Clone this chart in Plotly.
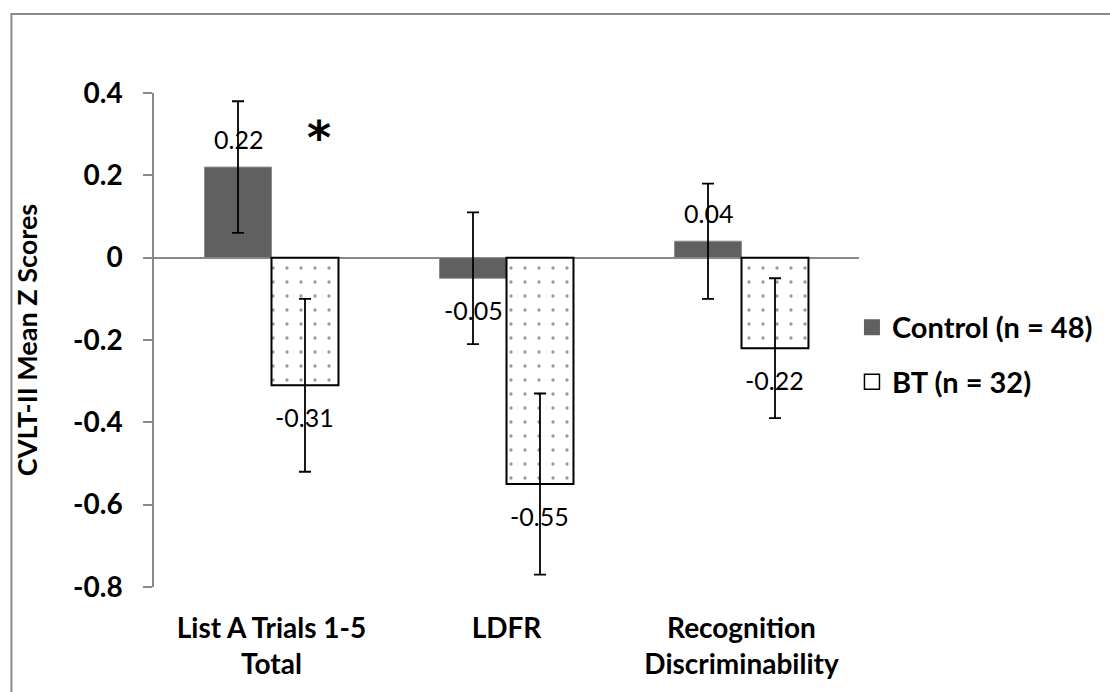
import plotly.graph_objects as go

categories = ["List A Trials 1-5<br>Total", "LDFR", "Recognition<br>Discriminability"]
series_names = ["Control (n = 48)", "BT (n = 32)"]
control_vals = [0.22, -0.05, 0.04]
control_err = [0.16, 0.16, 0.14]
bt_vals = [-0.31, -0.55, -0.22]
bt_err = [0.21, 0.22, 0.17]
y_ticks = [0.4, 0.2, 0, -0.2, -0.4, -0.6, -0.8]
y_tick_labels = ["0.4", "0.2", "0", "-0.2", "-0.4", "-0.6", "-0.8"]
y_title = "CVLT-II Mean Z Scores"
sig_mark = "*"

W, H = 1110, 692
L, R, T, B = 154, 249, 93, 98
BARGAP = 0.43
GREY = "#898989"
CTRL = "#606060"

fig = go.Figure()
fig.add_trace(go.Bar(
    name=series_names[0], x=categories, y=control_vals,
    marker=dict(color=CTRL, line=dict(color="#8c8c8c", width=1)),
    error_y=dict(type="data", array=control_err, color="black", thickness=1.8, width=6),
    showlegend=False,
))
fig.add_trace(go.Bar(
    name=series_names[1], x=categories, y=bt_vals,
    marker=dict(color="white", line=dict(color="black", width=2),
                pattern=dict(shape=".", fgcolor="#333333", bgcolor="white", size=14, solidity=0.045)),
    error_y=dict(type="data", array=bt_err, color="black", thickness=1.8, width=6),
    showlegend=False,
))
# legend entries
fig.add_trace(go.Scatter(x=[None], y=[None], mode="markers", name=series_names[0],
                         marker=dict(symbol="square", size=19, color=CTRL, line=dict(width=0)),
                         legendgroup="a", hoverinfo="skip"))
fig.add_trace(go.Scatter(x=[None], y=[None], mode="markers", name=series_names[1],
                         marker=dict(symbol="square", size=15, color="white",
                                     line=dict(width=1.5, color="black")),
                         legendgroup="b", hoverinfo="skip"))

half = (1 - BARGAP) / 4
ann = []
for i, v in enumerate(control_vals):
    ann.append(dict(x=i - half, y=v, xref="x", yref="y", text=f"{v:.2f}", showarrow=False,
                    yshift=28 if v >= 0 else -32,
                    font=dict(family="Lato", size=25, color="black")))
for i, v in enumerate(bt_vals):
    ann.append(dict(x=i + half, y=v, xref="x", yref="y", text=f"{v:.2f}", showarrow=False,
                    yshift=28 if v >= 0 else -32,
                    font=dict(family="Lato", size=25, color="black")))
ann.append(dict(x=0.2, y=0.29, xref="x", yref="y", text=f"<b>{sig_mark}</b>", showarrow=False,
                font=dict(family="DejaVu Sans", size=46, color="black")))

fig.update_layout(
    width=W, height=H, margin=dict(l=L, r=R, t=T, b=B),
    paper_bgcolor="white", plot_bgcolor="white",
    barmode="group", bargap=BARGAP, bargroupgap=0,
    annotations=ann,
    showlegend=True,
    legend=dict(x=0.99, y=(H - B - 358.5) / (H - T - B), xanchor="left", yanchor="middle",
                font=dict(family="Lato", size=29, color="black", weight="bold"),
                tracegroupgap=14, bgcolor="rgba(0,0,0,0)", itemsizing="trace"),
    xaxis=dict(type="category", showline=False, ticks="", showgrid=False, zeroline=False,
               tickfont=dict(family="Lato", size=28, color="black", weight="bold"),
               ticklabelstandoff=22),
    yaxis=dict(range=[-0.8, 0.4], tickvals=y_ticks, ticktext=y_tick_labels, ticks="outside",
               ticklen=9, tickcolor=GREY, tickwidth=1.5, showline=True, linecolor=GREY,
               linewidth=1.5, showgrid=False,
               zeroline=True, zerolinecolor=GREY, zerolinewidth=1.5,
               tickfont=dict(family="Lato", size=28, color="black", weight="bold"),
               ticklabelstandoff=15,
               title=dict(text=y_title, font=dict(family="Lato", size=27, color="black", weight="bold"),
                          standoff=28)),
    shapes=[dict(type="rect", xref="paper", yref="paper",
                 x0=(11 - L) / (W - L - R), x1=(W + 20 - L) / (W - L - R),
                 y0=-0.5, y1=(H - B - 13) / (H - T - B),
                 line=dict(color=GREY, width=2), fillcolor="rgba(0,0,0,0)", layer="below")],
)

fig.write_html("out.html", config={"displayModeBar": False},
               post_script="document.body.style.margin='0';document.body.style.overflow='hidden';")
